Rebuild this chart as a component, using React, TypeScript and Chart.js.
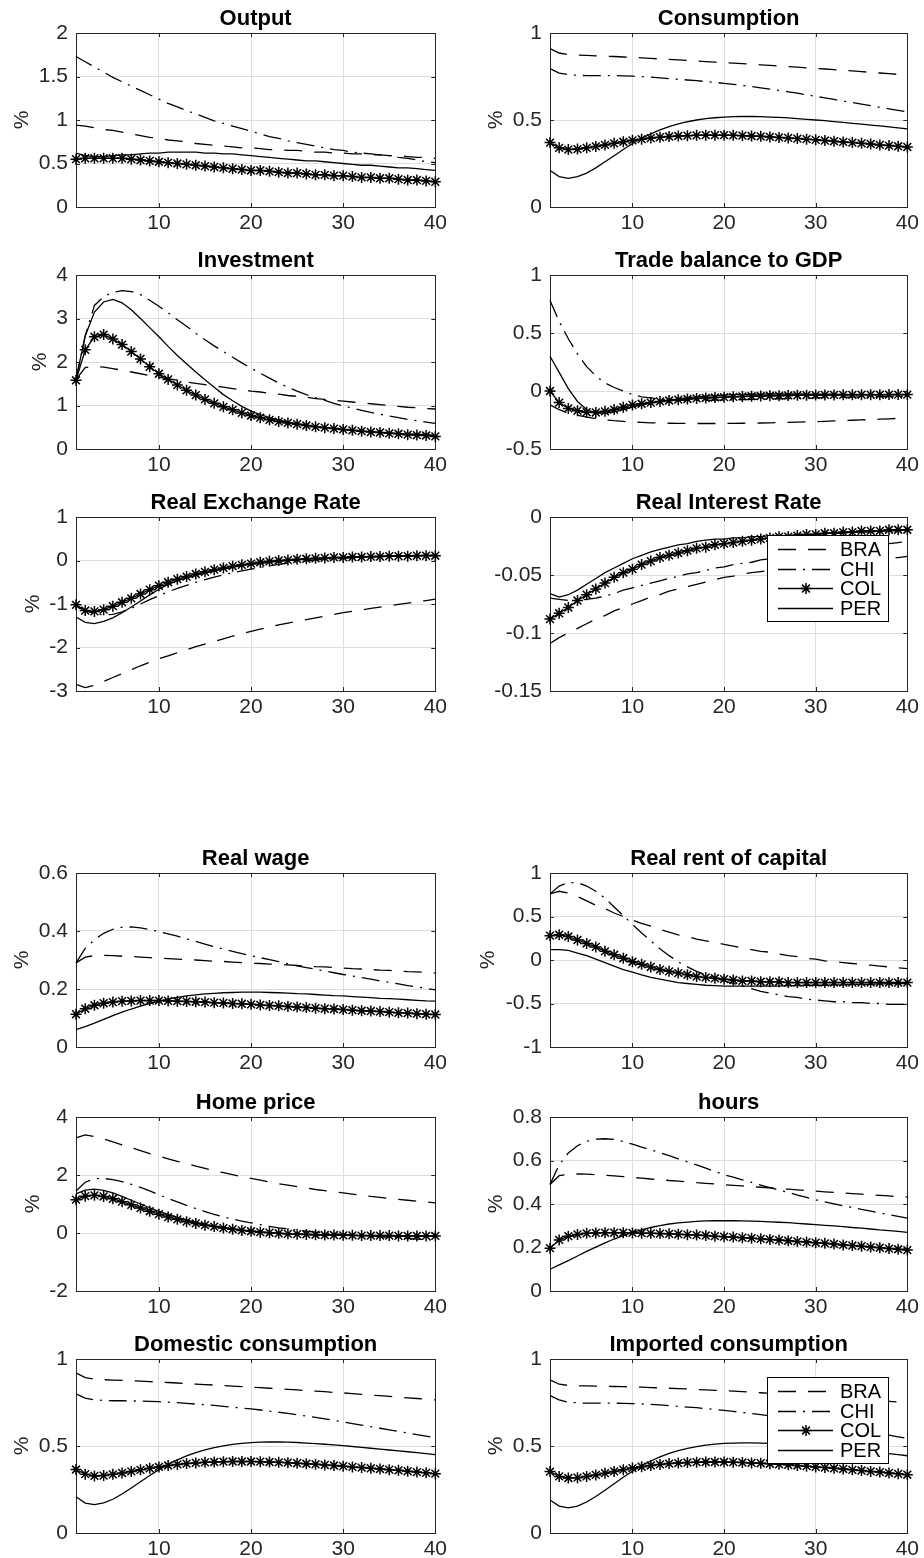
import React, { useEffect, useRef } from 'react';
import { Chart, registerables } from 'chart.js';

Chart.register(...registerables);

// ---------- data ----------
const periods = [1, 2, 3, 4, 5, 6, 7, 8, 9, 10, 11, 12, 13, 14, 15, 16, 17, 18, 19, 20, 21, 22, 23, 24, 25, 26, 27, 28, 29, 30, 31, 32, 33, 34, 35, 36, 37, 38, 39, 40];
const countries = ['BRA', 'CHI', 'COL', 'PER'];
const xTicks = [10, 20, 30, 40];

// Output
const outBRA = [0.94, 0.93, 0.91, 0.89, 0.88, 0.86, 0.84, 0.82, 0.80, 0.79, 0.77, 0.76, 0.75, 0.73, 0.72, 0.71, 0.70, 0.69, 0.68, 0.68, 0.67, 0.66, 0.66, 0.65, 0.65, 0.64, 0.63, 0.63, 0.62, 0.62, 0.61, 0.61, 0.60, 0.60, 0.59, 0.59, 0.58, 0.57, 0.57, 0.56];
const outCHI = [1.73, 1.67, 1.61, 1.55, 1.49, 1.44, 1.39, 1.34, 1.29, 1.24, 1.19, 1.15, 1.11, 1.07, 1.03, 0.99, 0.96, 0.93, 0.90, 0.87, 0.84, 0.81, 0.79, 0.76, 0.74, 0.72, 0.70, 0.68, 0.66, 0.65, 0.63, 0.62, 0.61, 0.60, 0.59, 0.57, 0.56, 0.54, 0.52, 0.51];
const outCOL = [0.55, 0.56, 0.56, 0.56, 0.56, 0.56, 0.55, 0.54, 0.53, 0.52, 0.51, 0.50, 0.49, 0.48, 0.47, 0.46, 0.45, 0.44, 0.43, 0.42, 0.42, 0.41, 0.40, 0.39, 0.39, 0.38, 0.37, 0.37, 0.36, 0.36, 0.35, 0.34, 0.34, 0.33, 0.33, 0.32, 0.31, 0.31, 0.30, 0.29];
const outPER = [0.62, 0.59, 0.58, 0.58, 0.59, 0.60, 0.60, 0.61, 0.62, 0.62, 0.63, 0.63, 0.63, 0.63, 0.62, 0.62, 0.61, 0.61, 0.60, 0.59, 0.58, 0.57, 0.56, 0.55, 0.54, 0.53, 0.53, 0.52, 0.51, 0.50, 0.49, 0.48, 0.48, 0.47, 0.46, 0.45, 0.45, 0.44, 0.43, 0.42];

// Consumption
const conBRA = [0.91, 0.885, 0.875, 0.873, 0.871, 0.869, 0.867, 0.865, 0.862, 0.86, 0.857, 0.854, 0.851, 0.848, 0.845, 0.842, 0.839, 0.836, 0.833, 0.83, 0.827, 0.824, 0.82, 0.817, 0.814, 0.81, 0.807, 0.804, 0.80, 0.797, 0.793, 0.789, 0.786, 0.782, 0.778, 0.774, 0.77, 0.766, 0.762, 0.758];
const conCHI = [0.795, 0.77, 0.76, 0.757, 0.755, 0.755, 0.755, 0.755, 0.754, 0.752, 0.749, 0.746, 0.742, 0.738, 0.734, 0.73, 0.726, 0.721, 0.716, 0.711, 0.705, 0.699, 0.692, 0.685, 0.678, 0.67, 0.662, 0.654, 0.645, 0.636, 0.627, 0.618, 0.609, 0.60, 0.591, 0.582, 0.573, 0.564, 0.555, 0.546];
const conCOL = [0.37, 0.34, 0.33, 0.333, 0.34, 0.348, 0.357, 0.366, 0.375, 0.383, 0.39, 0.396, 0.401, 0.405, 0.408, 0.41, 0.412, 0.413, 0.413, 0.413, 0.412, 0.41, 0.408, 0.406, 0.403, 0.40, 0.397, 0.393, 0.39, 0.386, 0.382, 0.378, 0.374, 0.37, 0.366, 0.362, 0.357, 0.353, 0.349, 0.345];
const conPER = [0.21, 0.175, 0.165, 0.175, 0.195, 0.225, 0.26, 0.295, 0.33, 0.365, 0.395, 0.42, 0.443, 0.462, 0.478, 0.49, 0.50, 0.508, 0.513, 0.517, 0.519, 0.52, 0.52, 0.519, 0.517, 0.515, 0.512, 0.508, 0.504, 0.50, 0.496, 0.491, 0.486, 0.481, 0.476, 0.471, 0.466, 0.461, 0.455, 0.449];

// Investment
const invBRA = [1.6, 1.87, 1.9, 1.88, 1.85, 1.81, 1.77, 1.73, 1.69, 1.65, 1.61, 1.58, 1.54, 1.51, 1.48, 1.45, 1.42, 1.39, 1.36, 1.33, 1.31, 1.28, 1.26, 1.23, 1.21, 1.19, 1.16, 1.14, 1.12, 1.10, 1.08, 1.06, 1.04, 1.02, 1.00, 0.98, 0.96, 0.95, 0.93, 0.92];
const invCHI = [1.6, 2.6, 3.3, 3.5, 3.6, 3.64, 3.62, 3.55, 3.42, 3.28, 3.13, 2.97, 2.82, 2.66, 2.51, 2.37, 2.24, 2.11, 1.98, 1.86, 1.74, 1.63, 1.52, 1.42, 1.33, 1.25, 1.18, 1.12, 1.05, 0.99, 0.94, 0.89, 0.84, 0.80, 0.76, 0.72, 0.68, 0.65, 0.62, 0.59];
const invCOL = [1.58, 2.28, 2.58, 2.63, 2.53, 2.4, 2.24, 2.07, 1.89, 1.73, 1.6, 1.47, 1.35, 1.24, 1.14, 1.05, 0.97, 0.9, 0.83, 0.77, 0.72, 0.67, 0.63, 0.6, 0.57, 0.54, 0.51, 0.49, 0.47, 0.45, 0.43, 0.41, 0.39, 0.38, 0.36, 0.35, 0.33, 0.32, 0.31, 0.29];
const invPER = [1.6, 2.6, 3.15, 3.38, 3.44, 3.36, 3.2, 3.0, 2.79, 2.58, 2.36, 2.15, 1.96, 1.77, 1.59, 1.42, 1.25, 1.11, 0.98, 0.87, 0.79, 0.72, 0.67, 0.62, 0.58, 0.55, 0.52, 0.49, 0.47, 0.45, 0.43, 0.41, 0.4, 0.38, 0.37, 0.36, 0.35, 0.34, 0.33, 0.31];

// Trade balance to GDP
const tbBRA = [-0.12, -0.16, -0.19, -0.21, -0.225, -0.238, -0.248, -0.256, -0.262, -0.267, -0.271, -0.274, -0.276, -0.278, -0.279, -0.28, -0.28, -0.28, -0.28, -0.28, -0.279, -0.278, -0.277, -0.276, -0.274, -0.272, -0.27, -0.268, -0.266, -0.264, -0.261, -0.258, -0.255, -0.252, -0.249, -0.246, -0.243, -0.24, -0.236, -0.232];
const tbCHI = [0.78, 0.6, 0.45, 0.32, 0.21, 0.13, 0.07, 0.03, 0.0, -0.03, -0.05, -0.06, -0.07, -0.075, -0.078, -0.08, -0.08, -0.08, -0.079, -0.078, -0.077, -0.075, -0.073, -0.071, -0.069, -0.067, -0.065, -0.063, -0.061, -0.059, -0.057, -0.055, -0.054, -0.052, -0.051, -0.05, -0.049, -0.048, -0.047, -0.046];
const tbCOL = [0.0, -0.1, -0.15, -0.17, -0.183, -0.185, -0.175, -0.16, -0.14, -0.12, -0.11, -0.1, -0.09, -0.082, -0.075, -0.069, -0.064, -0.06, -0.056, -0.053, -0.05, -0.047, -0.045, -0.043, -0.041, -0.04, -0.038, -0.037, -0.036, -0.035, -0.034, -0.034, -0.033, -0.033, -0.032, -0.032, -0.032, -0.031, -0.031, -0.031];
const tbPER = [0.3, 0.16, 0.02, -0.09, -0.16, -0.19, -0.19, -0.18, -0.16, -0.14, -0.12, -0.105, -0.09, -0.078, -0.067, -0.058, -0.05, -0.044, -0.039, -0.035, -0.032, -0.03, -0.028, -0.027, -0.026, -0.026, -0.026, -0.026, -0.027, -0.027, -0.028, -0.028, -0.029, -0.029, -0.03, -0.03, -0.031, -0.031, -0.032, -0.032];

// Real Exchange Rate
const rerBRA = [-2.85, -2.92, -2.87, -2.78, -2.69, -2.6, -2.51, -2.42, -2.34, -2.26, -2.19, -2.12, -2.05, -1.98, -1.92, -1.86, -1.8, -1.74, -1.68, -1.63, -1.58, -1.53, -1.48, -1.44, -1.4, -1.36, -1.32, -1.28, -1.24, -1.2, -1.17, -1.14, -1.1, -1.07, -1.04, -1.01, -0.98, -0.95, -0.92, -0.89];
const rerCHI = [-1.05, -1.15, -1.22, -1.25, -1.24, -1.18, -1.1, -1.0, -0.9, -0.81, -0.72, -0.64, -0.57, -0.5, -0.44, -0.38, -0.33, -0.28, -0.24, -0.2, -0.16, -0.12, -0.09, -0.06, -0.03, -0.01, 0.01, 0.03, 0.04, 0.05, 0.06, 0.07, 0.08, 0.09, 0.1, 0.1, 0.11, 0.11, 0.12, 0.12];
const rerCOL = [-1.02, -1.15, -1.17, -1.13, -1.05, -0.96, -0.87, -0.77, -0.67, -0.58, -0.5, -0.43, -0.37, -0.31, -0.26, -0.21, -0.17, -0.13, -0.1, -0.07, -0.04, -0.02, 0.0, 0.01, 0.03, 0.04, 0.05, 0.06, 0.07, 0.07, 0.08, 0.08, 0.09, 0.09, 0.1, 0.1, 0.1, 0.11, 0.11, 0.11];
const rerPER = [-1.3, -1.42, -1.45, -1.4, -1.32, -1.2, -1.07, -0.93, -0.79, -0.66, -0.55, -0.47, -0.4, -0.34, -0.29, -0.24, -0.2, -0.16, -0.12, -0.09, -0.07, -0.04, -0.02, 0.0, 0.01, 0.03, 0.04, 0.05, 0.06, 0.07, 0.08, 0.08, 0.09, 0.1, 0.1, 0.11, 0.11, 0.12, 0.12, 0.13];

// Real Interest Rate
const rirBRA = [-0.109, -0.104, -0.1, -0.096, -0.092, -0.088, -0.085, -0.081, -0.078, -0.075, -0.072, -0.069, -0.067, -0.064, -0.062, -0.06, -0.058, -0.056, -0.054, -0.052, -0.051, -0.049, -0.048, -0.047, -0.046, -0.045, -0.044, -0.043, -0.042, -0.041, -0.04, -0.039, -0.038, -0.037, -0.037, -0.036, -0.036, -0.035, -0.035, -0.034];
const rirCHI = [-0.07, -0.071, -0.072, -0.072, -0.071, -0.07, -0.068, -0.066, -0.063, -0.061, -0.059, -0.057, -0.055, -0.053, -0.051, -0.049, -0.048, -0.046, -0.044, -0.043, -0.041, -0.04, -0.039, -0.037, -0.036, -0.035, -0.034, -0.033, -0.032, -0.031, -0.03, -0.029, -0.028, -0.027, -0.026, -0.025, -0.024, -0.023, -0.022, -0.021];
const rirCOL = [-0.088, -0.083, -0.078, -0.072, -0.067, -0.062, -0.057, -0.052, -0.048, -0.045, -0.041, -0.038, -0.035, -0.033, -0.031, -0.029, -0.027, -0.026, -0.024, -0.023, -0.022, -0.021, -0.02, -0.019, -0.018, -0.017, -0.017, -0.016, -0.015, -0.015, -0.014, -0.014, -0.013, -0.013, -0.012, -0.012, -0.012, -0.011, -0.011, -0.011];
const rirPER = [-0.066, -0.069, -0.067, -0.063, -0.058, -0.053, -0.048, -0.044, -0.04, -0.036, -0.033, -0.03, -0.028, -0.026, -0.024, -0.023, -0.021, -0.02, -0.019, -0.019, -0.018, -0.018, -0.017, -0.017, -0.016, -0.016, -0.016, -0.015, -0.015, -0.015, -0.014, -0.014, -0.014, -0.013, -0.013, -0.013, -0.012, -0.012, -0.012, -0.011];

// Real wage
const wageBRA = [0.29, 0.31, 0.315, 0.316, 0.315, 0.313, 0.312, 0.31, 0.308, 0.306, 0.305, 0.303, 0.301, 0.30, 0.298, 0.296, 0.295, 0.293, 0.291, 0.289, 0.288, 0.286, 0.284, 0.283, 0.281, 0.279, 0.277, 0.276, 0.274, 0.272, 0.27, 0.269, 0.267, 0.265, 0.264, 0.262, 0.26, 0.259, 0.257, 0.255];
const wageCHI = [0.29, 0.34, 0.37, 0.392, 0.406, 0.413, 0.414, 0.411, 0.405, 0.398, 0.39, 0.382, 0.373, 0.364, 0.355, 0.346, 0.338, 0.33, 0.322, 0.315, 0.308, 0.301, 0.294, 0.287, 0.28, 0.274, 0.268, 0.262, 0.256, 0.25, 0.245, 0.239, 0.234, 0.228, 0.223, 0.218, 0.212, 0.207, 0.202, 0.197];
const wageCOL = [0.113, 0.132, 0.144, 0.151, 0.155, 0.158, 0.159, 0.16, 0.16, 0.16, 0.159, 0.158, 0.157, 0.156, 0.155, 0.153, 0.152, 0.15, 0.149, 0.147, 0.145, 0.143, 0.142, 0.14, 0.138, 0.136, 0.134, 0.132, 0.131, 0.129, 0.127, 0.125, 0.124, 0.122, 0.12, 0.118, 0.117, 0.115, 0.113, 0.112];
const wagePER = [0.06, 0.07, 0.082, 0.095, 0.108, 0.12, 0.131, 0.141, 0.15, 0.158, 0.165, 0.171, 0.176, 0.18, 0.183, 0.185, 0.187, 0.188, 0.189, 0.189, 0.189, 0.188, 0.187, 0.186, 0.184, 0.183, 0.181, 0.179, 0.177, 0.176, 0.174, 0.172, 0.17, 0.168, 0.167, 0.165, 0.163, 0.161, 0.159, 0.158];

// Real rent of capital
const rentBRA = [0.76, 0.79, 0.77, 0.73, 0.68, 0.63, 0.59, 0.54, 0.5, 0.46, 0.42, 0.39, 0.35, 0.32, 0.29, 0.27, 0.24, 0.22, 0.2, 0.18, 0.16, 0.14, 0.12, 0.1, 0.09, 0.07, 0.05, 0.04, 0.02, 0.01, -0.01, -0.02, -0.03, -0.04, -0.05, -0.06, -0.07, -0.08, -0.09, -0.1];
const rentCHI = [0.76, 0.85, 0.89, 0.89, 0.85, 0.79, 0.71, 0.61, 0.51, 0.41, 0.31, 0.22, 0.13, 0.05, -0.02, -0.08, -0.13, -0.17, -0.21, -0.24, -0.27, -0.3, -0.33, -0.36, -0.38, -0.4, -0.42, -0.43, -0.45, -0.46, -0.47, -0.48, -0.48, -0.49, -0.49, -0.5, -0.5, -0.51, -0.51, -0.51];
const rentCOL = [0.28, 0.29, 0.27, 0.23, 0.19, 0.15, 0.1, 0.06, 0.02, -0.02, -0.05, -0.08, -0.11, -0.13, -0.15, -0.17, -0.19, -0.2, -0.21, -0.22, -0.23, -0.24, -0.24, -0.25, -0.25, -0.25, -0.26, -0.26, -0.26, -0.26, -0.26, -0.26, -0.26, -0.26, -0.26, -0.26, -0.26, -0.26, -0.26, -0.26];
const rentPER = [0.12, 0.12, 0.11, 0.08, 0.05, 0.01, -0.03, -0.07, -0.11, -0.14, -0.17, -0.2, -0.22, -0.24, -0.26, -0.27, -0.28, -0.29, -0.295, -0.3, -0.3, -0.3, -0.3, -0.3, -0.3, -0.3, -0.295, -0.295, -0.29, -0.29, -0.29, -0.285, -0.285, -0.28, -0.28, -0.28, -0.275, -0.275, -0.27, -0.27];

// Home price
const homeBRA = [3.28, 3.38, 3.33, 3.24, 3.14, 3.04, 2.94, 2.84, 2.74, 2.65, 2.56, 2.47, 2.39, 2.31, 2.23, 2.15, 2.08, 2.01, 1.94, 1.88, 1.82, 1.76, 1.7, 1.65, 1.6, 1.55, 1.5, 1.46, 1.42, 1.38, 1.34, 1.3, 1.26, 1.23, 1.19, 1.16, 1.13, 1.1, 1.07, 1.04];
const homeCHI = [1.45, 1.75, 1.87, 1.88, 1.84, 1.77, 1.68, 1.57, 1.45, 1.32, 1.19, 1.07, 0.95, 0.84, 0.74, 0.64, 0.56, 0.48, 0.41, 0.35, 0.29, 0.23, 0.18, 0.14, 0.1, 0.06, 0.03, 0.0, -0.03, -0.05, -0.07, -0.09, -0.11, -0.13, -0.15, -0.17, -0.19, -0.21, -0.23, -0.25];
const homeCOL = [1.15, 1.27, 1.3, 1.26, 1.18, 1.08, 0.97, 0.86, 0.75, 0.65, 0.55, 0.47, 0.39, 0.33, 0.27, 0.22, 0.17, 0.13, 0.09, 0.06, 0.03, 0.01, -0.01, -0.03, -0.04, -0.05, -0.06, -0.07, -0.07, -0.08, -0.08, -0.09, -0.09, -0.09, -0.09, -0.1, -0.1, -0.1, -0.1, -0.1];
const homePER = [1.35, 1.48, 1.51, 1.47, 1.38, 1.26, 1.13, 1.0, 0.87, 0.75, 0.64, 0.54, 0.45, 0.37, 0.3, 0.24, 0.19, 0.14, 0.1, 0.07, 0.04, 0.01, -0.01, -0.03, -0.04, -0.05, -0.06, -0.07, -0.08, -0.08, -0.09, -0.09, -0.1, -0.1, -0.1, -0.11, -0.11, -0.11, -0.11, -0.11];

// hours
const hoursBRA = [0.49, 0.53, 0.537, 0.538, 0.537, 0.535, 0.532, 0.529, 0.526, 0.522, 0.519, 0.515, 0.512, 0.508, 0.505, 0.502, 0.498, 0.495, 0.492, 0.489, 0.486, 0.483, 0.48, 0.477, 0.474, 0.471, 0.468, 0.465, 0.462, 0.459, 0.456, 0.453, 0.451, 0.448, 0.445, 0.442, 0.44, 0.437, 0.434, 0.432];
const hoursCHI = [0.49, 0.58, 0.635, 0.668, 0.688, 0.698, 0.70, 0.697, 0.687, 0.675, 0.662, 0.649, 0.636, 0.622, 0.608, 0.594, 0.58, 0.565, 0.55, 0.535, 0.523, 0.511, 0.499, 0.487, 0.475, 0.464, 0.453, 0.441, 0.43, 0.419, 0.41, 0.401, 0.392, 0.384, 0.375, 0.367, 0.359, 0.351, 0.343, 0.335];
const hoursCOL = [0.197, 0.235, 0.252, 0.26, 0.265, 0.267, 0.268, 0.268, 0.268, 0.267, 0.266, 0.265, 0.264, 0.263, 0.261, 0.259, 0.257, 0.255, 0.252, 0.25, 0.248, 0.245, 0.243, 0.24, 0.237, 0.234, 0.231, 0.228, 0.225, 0.222, 0.219, 0.216, 0.212, 0.209, 0.206, 0.202, 0.199, 0.195, 0.192, 0.188];
const hoursPER = [0.1, 0.12, 0.14, 0.161, 0.182, 0.202, 0.221, 0.239, 0.255, 0.269, 0.281, 0.292, 0.301, 0.308, 0.313, 0.317, 0.32, 0.322, 0.323, 0.323, 0.323, 0.322, 0.321, 0.32, 0.318, 0.316, 0.314, 0.311, 0.308, 0.305, 0.302, 0.299, 0.296, 0.292, 0.289, 0.285, 0.281, 0.278, 0.274, 0.27];

// Domestic consumption
const domBRA = [0.92, 0.893, 0.884, 0.881, 0.879, 0.877, 0.875, 0.873, 0.87, 0.868, 0.865, 0.862, 0.859, 0.856, 0.853, 0.85, 0.847, 0.844, 0.841, 0.838, 0.835, 0.832, 0.829, 0.825, 0.822, 0.818, 0.815, 0.812, 0.808, 0.805, 0.801, 0.797, 0.793, 0.789, 0.785, 0.781, 0.777, 0.773, 0.769, 0.765];
const domCHI = [0.80, 0.775, 0.765, 0.762, 0.76, 0.76, 0.759, 0.758, 0.757, 0.755, 0.752, 0.749, 0.745, 0.741, 0.737, 0.733, 0.728, 0.723, 0.718, 0.713, 0.707, 0.701, 0.694, 0.687, 0.68, 0.672, 0.664, 0.656, 0.647, 0.638, 0.629, 0.62, 0.611, 0.602, 0.593, 0.584, 0.575, 0.566, 0.557, 0.548];
const domCOL = [0.365, 0.338, 0.328, 0.33, 0.337, 0.345, 0.354, 0.363, 0.372, 0.38, 0.388, 0.394, 0.399, 0.403, 0.406, 0.408, 0.41, 0.411, 0.411, 0.411, 0.41, 0.408, 0.406, 0.404, 0.401, 0.398, 0.395, 0.391, 0.388, 0.384, 0.38, 0.376, 0.372, 0.368, 0.364, 0.36, 0.355, 0.35, 0.346, 0.341];
const domPER = [0.208, 0.172, 0.163, 0.173, 0.194, 0.224, 0.259, 0.295, 0.33, 0.364, 0.394, 0.42, 0.443, 0.462, 0.478, 0.491, 0.501, 0.509, 0.515, 0.519, 0.522, 0.523, 0.523, 0.522, 0.52, 0.517, 0.514, 0.51, 0.506, 0.502, 0.497, 0.492, 0.487, 0.482, 0.477, 0.472, 0.467, 0.462, 0.456, 0.45];

// Imported consumption
const impBRA = [0.88, 0.855, 0.848, 0.846, 0.845, 0.844, 0.843, 0.842, 0.841, 0.84, 0.838, 0.836, 0.834, 0.832, 0.83, 0.828, 0.825, 0.823, 0.82, 0.818, 0.815, 0.812, 0.809, 0.806, 0.803, 0.80, 0.797, 0.794, 0.791, 0.788, 0.784, 0.78, 0.777, 0.773, 0.769, 0.765, 0.761, 0.757, 0.753, 0.749];
const impCHI = [0.79, 0.765, 0.752, 0.748, 0.746, 0.746, 0.746, 0.746, 0.745, 0.744, 0.742, 0.739, 0.736, 0.732, 0.728, 0.724, 0.72, 0.715, 0.71, 0.705, 0.699, 0.693, 0.687, 0.68, 0.673, 0.666, 0.658, 0.65, 0.642, 0.634, 0.625, 0.616, 0.607, 0.598, 0.589, 0.58, 0.571, 0.562, 0.553, 0.544];
const impCOL = [0.353, 0.325, 0.316, 0.318, 0.325, 0.334, 0.344, 0.354, 0.364, 0.373, 0.381, 0.388, 0.394, 0.399, 0.402, 0.405, 0.407, 0.408, 0.408, 0.408, 0.407, 0.405, 0.403, 0.401, 0.398, 0.395, 0.392, 0.388, 0.384, 0.38, 0.376, 0.372, 0.368, 0.363, 0.359, 0.354, 0.35, 0.345, 0.34, 0.335];
const impPER = [0.19, 0.155, 0.145, 0.155, 0.178, 0.21, 0.246, 0.283, 0.32, 0.355, 0.387, 0.414, 0.438, 0.458, 0.474, 0.487, 0.497, 0.505, 0.511, 0.515, 0.517, 0.518, 0.518, 0.517, 0.515, 0.513, 0.51, 0.506, 0.502, 0.498, 0.493, 0.488, 0.483, 0.478, 0.473, 0.467, 0.462, 0.456, 0.45, 0.444];

// y-axis tick labels
const yOut = [0, 0.5, 1, 1.5, 2];
const yCon = [0, 0.5, 1];
const yInv = [0, 1, 2, 3, 4];
const yTb = [-0.5, 0, 0.5, 1];
const yRer = [-3, -2, -1, 0, 1];
const yRir = [-0.15, -0.1, -0.05, 0];
const yWage = [0, 0.2, 0.4, 0.6];
const yRent = [-1, -0.5, 0, 0.5, 1];
const yHome = [-2, 0, 2, 4];
const yHours = [0, 0.2, 0.4, 0.6, 0.8];

// ---------- layout & style ----------
const FONT = '"Liberation Sans", Arial, Helvetica, sans-serif';
const AX = '#262626';
const GRID = '#dedede';
const TICK_SIZE = 21;
const PAD_L = 76;
const PAD_T = 33;
const PAD_R = 14;
const PAD_B = 30;
const COL_L = [76, 550];
const COL_W = [361, 359];
const ROW_T = [33, 275, 517, 873, 1117, 1359];
const PLOT_H = 174;

const styles = [
  { borderDash: [18, 12], pointStyle: false, pointRadius: 0 },
  { borderDash: [18, 7, 2, 7], pointStyle: false, pointRadius: 0 },
  { borderDash: [], pointStyle: 'star', pointRadius: 5.5 },
  { borderDash: [], pointStyle: false, pointRadius: 0 },
];

const panels = [
  { title: 'Output', col: 0, row: 0, yTicks: yOut, pct: 54, series: [outBRA, outCHI, outCOL, outPER] },
  { title: 'Consumption', col: 1, row: 0, yTicks: yCon, pct: 54, series: [conBRA, conCHI, conCOL, conPER] },
  { title: 'Investment', col: 0, row: 1, yTicks: yInv, pct: 36, series: [invBRA, invCHI, invCOL, invPER] },
  { title: 'Trade balance to GDP', col: 1, row: 1, yTicks: yTb, pct: 0, series: [tbBRA, tbCHI, tbCOL, tbPER] },
  { title: 'Real Exchange Rate', col: 0, row: 2, yTicks: yRer, pct: 43, series: [rerBRA, rerCHI, rerCOL, rerPER] },
  { title: 'Real Interest Rate', col: 1, row: 2, yTicks: yRir, pct: 0, legend: true, series: [rirBRA, rirCHI, rirCOL, rirPER] },
  { title: 'Real wage', col: 0, row: 3, yTicks: yWage, pct: 54, series: [wageBRA, wageCHI, wageCOL, wagePER] },
  { title: 'Real rent of capital', col: 1, row: 3, yTicks: yRent, pct: 62, series: [rentBRA, rentCHI, rentCOL, rentPER] },
  { title: 'Home price', col: 0, row: 4, yTicks: yHome, pct: 43, series: [homeBRA, homeCHI, homeCOL, homePER] },
  { title: 'hours', col: 1, row: 4, yTicks: yHours, pct: 54, series: [hoursBRA, hoursCHI, hoursCOL, hoursPER] },
  { title: 'Domestic consumption', col: 0, row: 5, yTicks: yCon, pct: 54, series: [domBRA, domCHI, domCOL, domPER] },
  { title: 'Imported consumption', col: 1, row: 5, yTicks: yCon, pct: 54, legend: true, series: [impBRA, impCHI, impCOL, impPER] },
];

function drawStar(ctx: CanvasRenderingContext2D, x: number, y: number, r: number) {
  const d = r * Math.SQRT1_2;
  ctx.beginPath();
  ctx.moveTo(x - r, y); ctx.lineTo(x + r, y);
  ctx.moveTo(x, y - r); ctx.lineTo(x, y + r);
  ctx.moveTo(x - d, y - d); ctx.lineTo(x + d, y + d);
  ctx.moveTo(x - d, y + d); ctx.lineTo(x + d, y - d);
  ctx.stroke();
}

const matlabPlugin = {
  id: 'matlab',
  beforeDatasetsDraw(chart: any) {
    const { ctx, chartArea: a } = chart;
    const xs = chart.scales.x;
    const ys = chart.scales.y;
    ctx.save();
    ctx.strokeStyle = AX;
    ctx.lineWidth = 1;
    ctx.setLineDash([]);
    ctx.beginPath();
    xs.ticks.forEach((t: any) => {
      const px = Math.round(xs.getPixelForValue(t.value)) + 0.5;
      ctx.moveTo(px, a.bottom); ctx.lineTo(px, a.bottom - 4);
      ctx.moveTo(px, a.top); ctx.lineTo(px, a.top + 4);
    });
    ys.ticks.forEach((t: any) => {
      const py = Math.round(ys.getPixelForValue(t.value)) + 0.5;
      ctx.moveTo(a.left, py); ctx.lineTo(a.left + 4, py);
      ctx.moveTo(a.right, py); ctx.lineTo(a.right - 4, py);
    });
    ctx.stroke();
    ctx.strokeRect(Math.round(a.left) + 0.5, Math.round(a.top) + 0.5, Math.round(a.right - a.left), Math.round(a.bottom - a.top));
    ctx.restore();
  },
  afterDraw(chart: any, _args: any, opts: any) {
    const { ctx, chartArea: a } = chart;
    ctx.save();
    ctx.fillStyle = '#000';
    ctx.font = `bold 22px ${FONT}`;
    ctx.textAlign = 'center';
    ctx.textBaseline = 'alphabetic';
    ctx.fillText(opts.title, (a.left + a.right) / 2, a.top - 8);
    if (opts.legend) {
      const w = 121, h = 86;
      const bx = Math.round(a.right - 19 - w), by = Math.round(a.top + 18);
      ctx.fillStyle = '#fff';
      ctx.fillRect(bx, by, w, h);
      ctx.strokeStyle = '#000';
      ctx.lineWidth = 1;
      ctx.strokeRect(bx + 0.5, by + 0.5, w, h);
      chart.data.datasets.forEach((ds: any, i: number) => {
        const y = Math.round(by + 14 + i * 19.7) + 0.5;
        ctx.strokeStyle = '#000';
        ctx.lineWidth = ds.borderWidth;
        ctx.setLineDash(ds.borderDash || []);
        ctx.beginPath();
        ctx.moveTo(bx + 11, y); ctx.lineTo(bx + 66, y);
        ctx.stroke();
        ctx.setLineDash([]);
        ctx.lineWidth = ds.pointBorderWidth;
        if (ds.pointStyle === 'star') drawStar(ctx, bx + 39, y, ds.pointRadius);
        ctx.fillStyle = '#000';
        ctx.font = `20px ${FONT}`;
        ctx.textAlign = 'left';
        ctx.textBaseline = 'middle';
        ctx.fillText(ds.label, bx + 73, y + 1);
      });
    }
    ctx.restore();
  },
};

function Panel({ p }: { p: any }) {
  const ref = useRef<HTMLCanvasElement>(null);
  const L = COL_L[p.col];
  const W = COL_W[p.col];
  const T = ROW_T[p.row];
  const cw = PAD_L + W + PAD_R;
  const chh = PAD_T + PLOT_H + PAD_B;
  useEffect(() => {
    const yt: number[] = p.yTicks;
    const chart = new Chart(ref.current as HTMLCanvasElement, {
      type: 'line',
      data: {
        labels: periods,
        datasets: countries.map((c, i) => ({
          label: c,
          data: periods.map((x, k) => ({ x, y: p.series[i][k] })),
          borderColor: '#000',
          backgroundColor: '#000',
          borderWidth: 1.3,
          borderDash: styles[i].borderDash,
          pointStyle: styles[i].pointStyle as any,
          pointRadius: styles[i].pointRadius,
          pointBorderColor: '#000',
          pointBorderWidth: 1.5,
          pointHoverRadius: 0,
          fill: false,
          tension: 0,
          clip: false as any,
        })),
      },
      options: {
        animation: false,
        responsive: false,
        events: [],
        layout: { padding: { left: 0, top: PAD_T, right: PAD_R, bottom: 0 } },
        plugins: {
          legend: { display: false },
          title: { display: false },
          tooltip: { enabled: false },
          matlab: { title: p.title, legend: !!p.legend },
        } as any,
        scales: {
          x: {
            type: 'linear',
            min: 1,
            max: 40,
            afterBuildTicks: (s: any) => { s.ticks = xTicks.map((v) => ({ value: v })); },
            afterFit: (s: any) => { s.height = PAD_B; },
            grid: { color: GRID, lineWidth: 1, drawTicks: false },
            border: { display: false },
            ticks: { padding: 4, color: AX, font: { family: FONT, size: TICK_SIZE }, maxRotation: 0, autoSkip: false, callback: (v: any) => String(v) },
          },
          y: {
            type: 'linear',
            min: yt[0],
            max: yt[yt.length - 1],
            afterBuildTicks: (s: any) => { s.ticks = yt.map((v) => ({ value: v })); },
            afterFit: (s: any) => { s.width = PAD_L; },
            grid: { color: GRID, lineWidth: 1, drawTicks: false },
            border: { display: false },
            ticks: { padding: 8, color: AX, font: { family: FONT, size: TICK_SIZE }, autoSkip: false, callback: (v: any) => String(v) },
            title: {
              display: p.pct > 0,
              text: '%',
              color: AX,
              font: { family: FONT, size: TICK_SIZE },
              padding: { top: Math.max(0, PAD_L - p.pct - 12), bottom: 0 },
            },
          },
        },
      },
      plugins: [matlabPlugin as any],
    });
    return () => chart.destroy();
  }, []);
  return (
    <canvas
      ref={ref}
      width={cw}
      height={chh}
      style={{ position: 'absolute', left: L - PAD_L, top: T - PAD_T, width: cw, height: chh }}
    />
  );
}

export default function App() {
  return (
    <div style={{ position: 'absolute', left: 0, top: 0, width: 924, height: 1558, overflow: 'hidden', background: '#fff' }}>
      {panels.map((p) => (
        <Panel key={p.title} p={p} />
      ))}
    </div>
  );
}
